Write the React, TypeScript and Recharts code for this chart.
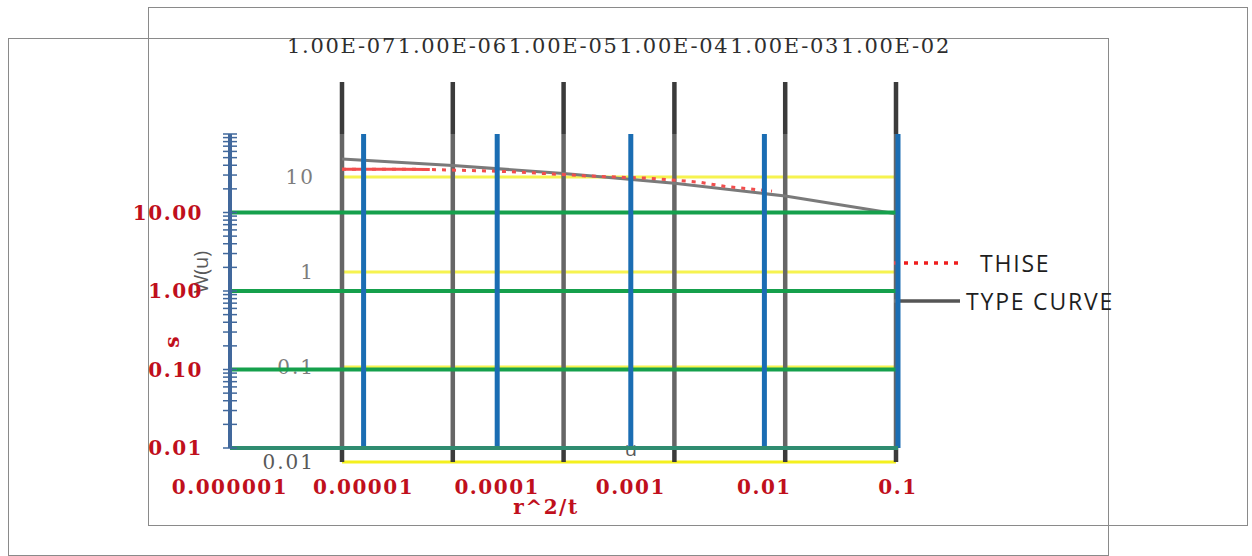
import React from "react";
import { ComposedChart, Line, XAxis, YAxis, ReferenceLine, ReferenceArea, Legend, Label } from "recharts";

const W = 1252;
const H = 556;
const SERIF = "'DejaVu Serif', serif";
const SANS = "'Open Sans', sans-serif";

// Type curve W(u) against u
const typeCurveU = [1e-7, 1e-6, 1e-5, 1e-4, 1e-3, 1e-2];
const typeCurveW = [15.5, 13.2, 10.9, 8.6, 6.3, 4.1];

const thiseU = [1e-7, 3.3e-7, 6.2e-7, 1.4e-6, 3.3e-6, 7.5e-6, 1.5e-5, 3.7e-5, 6e-5, 9.7e-5, 1.7e-4, 3e-4, 4.8e-4, 7.6e-4];
const thiseW = [12.1, 12.1, 12.0, 11.7, 11.4, 10.8, 10.3, 9.9, 9.7, 9.3, 8.8, 7.9, 7.5, 7.1];

// W(u) chart axes
const wTopTicks = [1e-7, 1e-6, 1e-5, 1e-4, 1e-3, 1e-2];
const wTopLabels = ["1.00E-07", "1.00E-06", "1.00E-05", "1.00E-04", "1.00E-03", "1.00E-02"];
const wYTicks = [0.01, 0.1, 1, 10];
const wYLabels = ["0.01", "0.1", "1", "10"];

// s vs r^2/t chart axes
const sXTicks = [1e-6, 1e-5, 1e-4, 1e-3, 1e-2, 1e-1];
const sXLabels = ["0.000001", "0.00001", "0.0001", "0.001", "0.01", "0.1"];
const sYMajor = [0.01, 0.1, 1, 10];
const sYLabels = ["0.01", "0.10", "1.00", "10.00"];
const sYTicks = sYMajor
  .flatMap((d) => [1, 2, 3, 4, 5, 6, 7, 8, 9].map((m) => +(m * d).toPrecision(3)))
  .concat(100);

const typeCurve = typeCurveU.map((u, i) => ({ u, w: typeCurveW[i] }));
const thise = thiseU.map((u, i) => ({ u, w: thiseW[i] }));
const sGrid = sXTicks.map((r) => ({ r }));

const near = (a: number, b: number) => Math.abs(a - b) / b < 1e-6;

const RED_TEXT = "#c00f1c";
const GRAY_TEXT = "#595959";
const DARK = "#3b3b3b";
const YELLOW = "#f4f01e";
const GREEN = "#15a04c";
const BLUE = "#1a6db3";
const BLUE_AXIS = "#41689c";

const WTopTick = ({ x, y, payload }: any) => {
  const i = wTopTicks.findIndex((v) => near(payload.value, v));
  return (
    <text x={x} y={y - 29} textAnchor="middle" fill="#2e2e2e" fontFamily={SERIF} fontSize={21} letterSpacing={1.7}>
      {wTopLabels[i]}
    </text>
  );
};

const WLeftTick = ({ x, y, payload }: any) => {
  const i = wYTicks.findIndex((v) => near(payload.value, v));
  return (
    <text x={x - 27} y={y + 7} textAnchor="end" fill={GRAY_TEXT} fontFamily={SERIF} fontSize={20} letterSpacing={2}>
      {wYLabels[i]}
    </text>
  );
};

const SLeftTick = ({ x, y, payload }: any) => {
  const i = sYMajor.findIndex((v) => near(payload.value, v));
  return (
    <g>
      <line x1={x - 7} x2={x + 7} y1={y} y2={y} stroke={BLUE_AXIS} strokeWidth={1.5} />
      {i >= 0 && (
        <text x={x - 27} y={y + 7} textAnchor="end" fill={RED_TEXT} fontFamily={SERIF} fontWeight="bold" fontSize={20} letterSpacing={1.5}>
          {sYLabels[i]}
        </text>
      )}
    </g>
  );
};

const SBottomTick = ({ x, y, payload }: any) => {
  const i = sXTicks.findIndex((v) => near(payload.value, v));
  return (
    <text x={x} y={y + 46} textAnchor="middle" fill={RED_TEXT} fontFamily={SERIF} fontWeight="bold" fontSize={20} letterSpacing={1.5}>
      {sXLabels[i]}
    </text>
  );
};

const wuLabel = ({ viewBox }: any) => {
  const cx = viewBox.x + viewBox.width - 142;
  const cy = viewBox.y + viewBox.height / 2;
  return (
    <text x={cx} y={cy} transform={`rotate(-90, ${cx}, ${cy})`} textAnchor="middle" dominantBaseline="central" fill={GRAY_TEXT} fontFamily={SANS} fontSize={20}>
      W(u)
    </text>
  );
};

const uLabel = ({ viewBox }: any) => (
  <text x={viewBox.x + viewBox.width / 2 + 12} y={viewBox.y - 6} textAnchor="middle" fill={GRAY_TEXT} fontFamily={SANS} fontSize={20}>
    u
  </text>
);

const sLabel = ({ viewBox }: any) => {
  const cx = viewBox.x + viewBox.width - 58;
  const cy = viewBox.y + viewBox.height / 2 + 51;
  return (
    <text x={cx} y={cy} transform={`rotate(-90, ${cx}, ${cy})`} textAnchor="middle" dominantBaseline="central" fill={RED_TEXT} fontFamily={SERIF} fontWeight="bold" fontSize={20}>
      s
    </text>
  );
};

const rtLabel = ({ viewBox }: any) => (
  <text x={viewBox.x + viewBox.width / 2 - 18} y={viewBox.y + 66} textAnchor="middle" fill={RED_TEXT} fontFamily={SERIF} fontWeight="bold" fontSize={20} letterSpacing={1.5}>
    r^2/t
  </text>
);

const legendGap: Record<string, number> = { THISE: 20, "TYPE CURVE": 6 };

const renderLegend = ({ payload }: any) => (
  <div>
    {(payload || [])
      .filter((entry: any) => entry.type !== "none" && entry.payload?.legendType !== "none")
      .map((entry: any) => (
        <div key={entry.value} style={{ display: "flex", alignItems: "center", height: 38 }}>
          <svg width={66} height={10} style={{ marginRight: legendGap[entry.value] ?? 10 }}>
            <line x1={0} x2={66} y1={5} y2={5} stroke={entry.color} strokeWidth={3.5} strokeDasharray={entry.payload?.strokeDasharray} />
          </svg>
          <span style={{ fontFamily: SANS, fontSize: 23, letterSpacing: 1.8, color: "#1e1e1e", lineHeight: "38px" }}>{entry.value}</span>
        </div>
      ))}
  </div>
);

export default function App() {
  return (
    <div style={{ position: "absolute", left: 0, top: 0, width: W, height: H, background: "#fff", overflow: "hidden" }}>
      <div style={{ position: "absolute", left: 148, top: 7, width: 1100, height: 519, border: "1px solid #8a8a8a", boxSizing: "border-box" }} />
      <div style={{ position: "absolute", left: 8, top: 38, width: 1101, height: 518, border: "1px solid #8a8a8a", boxSizing: "border-box" }} />

      <div style={{ position: "absolute", left: 0, top: 0 }}>
        <ComposedChart width={W} height={H} margin={{ top: 81, right: W - 896, bottom: H - 463, left: 341 }}>
          <XAxis xAxisId="w" dataKey="u" type="number" scale="log" domain={[1e-7, 1e-2]} allowDataOverflow orientation="bottom" height={1} tick={false} tickLine={false} axisLine={false} label={<Label content={uLabel} />} />
          <XAxis xAxisId="wt" dataKey="u" type="number" scale="log" domain={[1e-7, 1e-2]} allowDataOverflow orientation="top" height={1} ticks={wTopTicks} interval={0} tick={<WTopTick />} tickLine={false} tickSize={0} tickMargin={0} axisLine={false} />
          <YAxis yAxisId="w" type="number" scale="log" domain={[0.01, 100]} allowDataOverflow width={1} ticks={wYTicks} interval={0} tick={<WLeftTick />} tickLine={false} tickSize={0} tickMargin={0} axisLine={false} label={<Label content={wuLabel} />} />
          {wYTicks.map((v) => (
            <ReferenceLine key={`wy${v}`} xAxisId="w" yAxisId="w" y={v} stroke={YELLOW} strokeWidth={3} />
          ))}
          {wTopTicks.map((v) => (
            <ReferenceLine key={`wx${v}`} xAxisId="w" yAxisId="w" x={v} stroke={DARK} strokeWidth={4.5} />
          ))}
          <Line data={typeCurve} xAxisId="wt" yAxisId="w" dataKey="w" name="TYPE CURVE" type="linear" stroke="#555555" strokeWidth={3} dot={false} isAnimationActive={false} />
          <Line data={thise} xAxisId="w" yAxisId="w" dataKey="w" name="THISE" type="linear" stroke="#ee1c1c" strokeWidth={3} strokeDasharray="4 6" dot={false} isAnimationActive={false} />
          <Line data={thise.slice(0, 3)} xAxisId="w" yAxisId="w" dataKey="w" name="THISE head" legendType="none" type="linear" stroke="#ee1c1c" strokeWidth={3} dot={false} isAnimationActive={false} />
          <Legend layout="vertical" align="center" verticalAlign="middle" content={renderLegend} wrapperStyle={{ left: 894, top: 244, width: 250, height: 80 }} />
        </ComposedChart>
      </div>

      <div style={{ position: "absolute", left: 0, top: 0 }}>
        <ComposedChart data={sGrid} width={W} height={H} margin={{ top: 134, right: W - 898, bottom: H - 449, left: 229 }}>
          <XAxis xAxisId="s" dataKey="r" type="number" scale="log" domain={[1e-6, 0.1]} allowDataOverflow height={1} ticks={sXTicks} interval={0} tick={<SBottomTick />} tickLine={false} tickSize={0} tickMargin={0} axisLine={{ stroke: "#2f8c70", strokeWidth: 4 }} label={<Label content={rtLabel} />} />
          <YAxis yAxisId="s" type="number" scale="log" domain={[0.01, 100]} allowDataOverflow width={1} ticks={sYTicks} interval={0} tick={<SLeftTick />} tickLine={false} tickSize={0} tickMargin={0} axisLine={{ stroke: BLUE_AXIS, strokeWidth: 4 }} label={<Label content={sLabel} />} />
          <ReferenceArea xAxisId="s" yAxisId="s" x1={1e-6} x2={0.1} y1={0.01} y2={100} fill="#ffffff" fillOpacity={0.22} stroke="none" />
          {sYMajor.slice(1).map((v) => (
            <ReferenceLine key={`sy${v}`} xAxisId="s" yAxisId="s" y={v} stroke={GREEN} strokeWidth={4} />
          ))}
          {sXTicks.slice(1).map((v) => (
            <ReferenceLine key={`sx${v}`} xAxisId="s" yAxisId="s" x={v} stroke={BLUE} strokeWidth={5} />
          ))}
        </ComposedChart>
      </div>
    </div>
  );
}
